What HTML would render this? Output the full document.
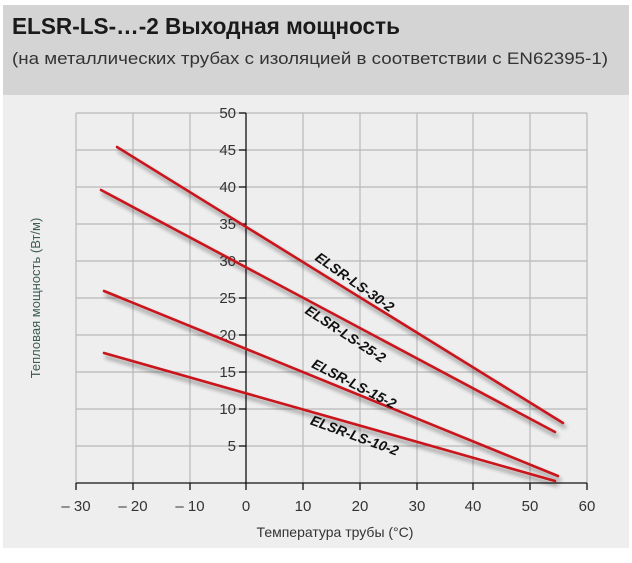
<!DOCTYPE html>
<html><head><meta charset="utf-8"><style>
body{margin:0;width:632px;height:558px;background:#fff;overflow:hidden;font-family:"Liberation Sans",sans-serif}
</style></head><body>
<svg width="632" height="558" xmlns="http://www.w3.org/2000/svg" font-family="Liberation Sans, sans-serif">
<defs><filter id="sh" x="-10%" y="-10%" width="120%" height="130%"><feGaussianBlur in="SourceAlpha" stdDeviation="2"/><feOffset dx="2" dy="4"/><feComponentTransfer><feFuncA type="linear" slope="0.45"/></feComponentTransfer><feMerge><feMergeNode/><feMergeNode in="SourceGraphic"/></feMerge></filter></defs>
<rect x="3" y="5" width="626" height="90" fill="#d4d4d4"/>
<rect x="3" y="95" width="626" height="453" fill="#eeeeee"/>
<text x="12" y="34" font-size="23" font-weight="bold" fill="#1a1a1a" textLength="388" lengthAdjust="spacingAndGlyphs">ELSR-LS-…-2 Выходная мощность</text>
<text x="12" y="64" font-size="17" fill="#333" textLength="596" lengthAdjust="spacingAndGlyphs">(на металлических трубах с изоляцией в соответствии с EN62395-1)</text>
<g stroke="#b8b8b8" stroke-width="1.2">
<line x1="76" y1="113" x2="587" y2="113"/><line x1="76" y1="150" x2="587" y2="150"/><line x1="76" y1="187" x2="587" y2="187"/><line x1="76" y1="224" x2="587" y2="224"/><line x1="76" y1="261" x2="587" y2="261"/><line x1="76" y1="298" x2="587" y2="298"/><line x1="76" y1="335" x2="587" y2="335"/><line x1="76" y1="372" x2="587" y2="372"/><line x1="76" y1="409" x2="587" y2="409"/><line x1="76" y1="446" x2="587" y2="446"/>
<line x1="76" y1="113" x2="76" y2="483"/><line x1="133" y1="113" x2="133" y2="483"/><line x1="190" y1="113" x2="190" y2="483"/><line x1="303" y1="113" x2="303" y2="483"/><line x1="360" y1="113" x2="360" y2="483"/><line x1="417" y1="113" x2="417" y2="483"/><line x1="473" y1="113" x2="473" y2="483"/><line x1="530" y1="113" x2="530" y2="483"/><line x1="587" y1="113" x2="587" y2="483"/>
</g>
<g stroke="#111" stroke-width="1.3">
<line x1="76" y1="483" x2="587" y2="483"/><line x1="246" y1="113" x2="246" y2="490"/>
<line x1="76" y1="483" x2="76" y2="490"/><line x1="133" y1="483" x2="133" y2="490"/><line x1="190" y1="483" x2="190" y2="490"/><line x1="303" y1="483" x2="303" y2="490"/><line x1="360" y1="483" x2="360" y2="490"/><line x1="417" y1="483" x2="417" y2="490"/><line x1="473" y1="483" x2="473" y2="490"/><line x1="530" y1="483" x2="530" y2="490"/><line x1="587" y1="483" x2="587" y2="490"/>
<line x1="239" y1="113" x2="246" y2="113"/><line x1="239" y1="150" x2="246" y2="150"/><line x1="239" y1="187" x2="246" y2="187"/><line x1="239" y1="224" x2="246" y2="224"/><line x1="239" y1="261" x2="246" y2="261"/><line x1="239" y1="298" x2="246" y2="298"/><line x1="239" y1="335" x2="246" y2="335"/><line x1="239" y1="372" x2="246" y2="372"/><line x1="239" y1="409" x2="246" y2="409"/><line x1="239" y1="446" x2="246" y2="446"/>
</g>
<g font-size="15" fill="#333" text-anchor="end">
<text x="236" y="118">50</text><text x="236" y="155">45</text><text x="236" y="192">40</text><text x="236" y="229">35</text><text x="236" y="266">30</text><text x="236" y="303">25</text><text x="236" y="340">20</text><text x="236" y="377">15</text><text x="236" y="414">10</text><text x="236" y="451">5</text>
</g>
<g font-size="15" fill="#333" text-anchor="middle">
<text x="76" y="511">– 30</text><text x="133" y="511">– 20</text><text x="190" y="511">– 10</text><text x="246" y="511">0</text><text x="303" y="511">10</text><text x="360" y="511">20</text><text x="417" y="511">30</text><text x="473" y="511">40</text><text x="530" y="511">50</text><text x="587" y="511">60</text>
</g>
<text x="335" y="537" font-size="14" fill="#333" text-anchor="middle">Температура трубы (°C)</text>
<text transform="translate(40,298) rotate(-90)" font-size="13" fill="#3d5a55" text-anchor="middle">Тепловая мощность (Вт/м)</text>
<g stroke="#c8141e" stroke-width="2.6" filter="url(#sh)" stroke-linecap="round">
<line x1="117" y1="147" x2="563" y2="423"/>
<line x1="101" y1="190" x2="555" y2="432"/>
<line x1="104" y1="291" x2="558" y2="476"/>
<line x1="104" y1="353" x2="555" y2="481"/>
</g>
<g font-size="14" font-weight="bold" font-style="italic" fill="#111" text-anchor="middle">
<text transform="translate(352,286) rotate(35)">ELSR-LS-30-2</text>
<text transform="translate(343,338) rotate(33)">ELSR-LS-25-2</text>
<text transform="translate(352,388) rotate(27)">ELSR-LS-15-2</text>
<text transform="translate(353,440) rotate(20)">ELSR-LS-10-2</text>
</g>
</svg>
</body></html>
